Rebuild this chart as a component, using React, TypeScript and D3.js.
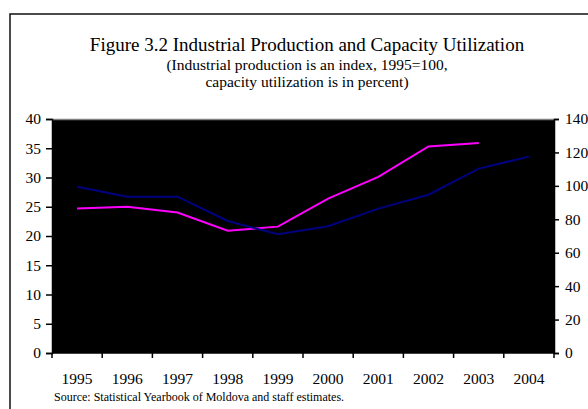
import React, { useRef, useEffect } from 'react'
import * as d3 from 'd3'

const years = ['1995', '1996', '1997', '1998', '1999', '2000', '2001', '2002', '2003', '2004']
// industrial production index, 1995=100 (right axis)
const production = [99.5, 93.5, 93.5, 79, 71, 75.8, 86.4, 94.7, 110.3, 117.5]
// capacity utilization, percent (left axis)
const capacity = [24.7, 25.0, 24.0, 20.9, 21.6, 26.4, 30.1, 35.3, 35.9]
const leftTicks = [0, 5, 10, 15, 20, 25, 30, 35, 40]
const rightTicks = [0, 20, 40, 60, 80, 100, 120, 140]

const App = () => {
  const ref = useRef<SVGSVGElement>(null)

  useEffect(() => {
    const svg = d3.select(ref.current)
    svg.selectAll('*').remove()

    const font = '"Liberation Serif", "Times New Roman", serif'
    const margin = { top: 119, left: 52, right: 34, bottom: 56 }
    const W = 588, H = 409
    const width = W - margin.left - margin.right
    const height = H - margin.top - margin.bottom

    // frame
    svg.append('rect')
      .attr('x', 10).attr('y', 14)
      .attr('width', 620).attr('height', 420)
      .attr('fill', 'white').attr('stroke', '#111').attr('stroke-width', 1.5)

    // titles
    const titles = [
      { t: 'Figure 3.2 Industrial Production and Capacity Utilization', y: 51, s: 19 },
      { t: '(Industrial production is an index, 1995=100,', y: 70, s: 15.5 },
      { t: 'capacity utilization is in percent)', y: 87, s: 15.5 },
    ]
    svg.selectAll('text.title').data(titles).enter().append('text')
      .attr('class', 'title')
      .attr('x', 307).attr('y', d => d.y)
      .attr('text-anchor', 'middle')
      .style('font-family', font).style('font-size', d => d.s + 'px')
      .text(d => d.t)

    const g = svg.append('g').attr('transform', `translate(${margin.left},${margin.top})`)

    const x = d3.scaleBand().domain(years).range([0, width])
    const yL = d3.scaleLinear().domain([0, 40]).range([height, 0])
    const yR = d3.scaleLinear().domain([0, 140]).range([height, 0])

    // plot area
    g.append('rect').attr('width', width).attr('height', height).attr('fill', 'black')
    g.append('line').attr('x1', 0).attr('x2', width).attr('y1', 0.5).attr('y2', 0.5)
      .attr('stroke', '#808080').attr('stroke-width', 1.5)

    // left axis
    const la = g.append('g').call(d3.axisLeft(yL).tickValues(leftTicks).tickSize(6).tickPadding(5))
    // right axis
    const ra = g.append('g').attr('transform', `translate(${width},0)`)
      .call(d3.axisRight(yR).tickValues(rightTicks).tickSize(5).tickPadding(6))
    // bottom axis with ticks between categories
    const ba = g.append('g').attr('transform', `translate(0,${height})`)
    ba.append('line').attr('x1', 0).attr('x2', width).attr('stroke', 'black').attr('stroke-width', 1.5)
    const bounds = years.map(d => x(d) as number).concat([width])
    ba.selectAll('line.tk').data(bounds).enter().append('line')
      .attr('class', 'tk')
      .attr('x1', d => d).attr('x2', d => d).attr('y1', 0).attr('y2', 5)
      .attr('stroke', 'black').attr('stroke-width', 1.5)
    ba.selectAll('text').data(years).enter().append('text')
      .attr('x', d => (x(d) as number) + x.bandwidth() / 2)
      .attr('y', 31)
      .attr('text-anchor', 'middle')
      .style('font-family', font).style('font-size', '15.5px')
      .text(d => d)

    ;[la, ra].forEach(a => {
      a.select('.domain').attr('stroke', 'black').attr('stroke-width', 1.5)
      a.selectAll('.tick line').attr('stroke', 'black').attr('stroke-width', 1.5)
      a.selectAll('.tick text').style('font-family', font).style('font-size', '15.5px').attr('fill', 'black')
    })

    const cx = (d: string) => (x(d) as number) + x.bandwidth() / 2

    // capacity utilization line
    g.append('path')
      .datum(capacity)
      .attr('fill', 'none').attr('stroke', '#ff00ff').attr('stroke-width', 2)
      .attr('d', d3.line<number>().x((d, i) => cx(years[i])).y(d => yL(d)))

    // industrial production line
    g.append('path')
      .datum(production)
      .attr('fill', 'none').attr('stroke', '#000080').attr('stroke-width', 2)
      .attr('d', d3.line<number>().x((d, i) => cx(years[i])).y(d => yR(d)))

    // source
    svg.append('text')
      .attr('x', 54).attr('y', 401)
      .style('font-family', font).style('font-size', '12px')
      .text('Source: Statistical Yearbook of Moldova and staff estimates.')
  }, [])

  return (
    <svg
      ref={ref}
      width={588}
      height={409}
      style={{ position: 'absolute', left: 0, top: 0, background: 'white' }}
    />
  )
}

export default App
